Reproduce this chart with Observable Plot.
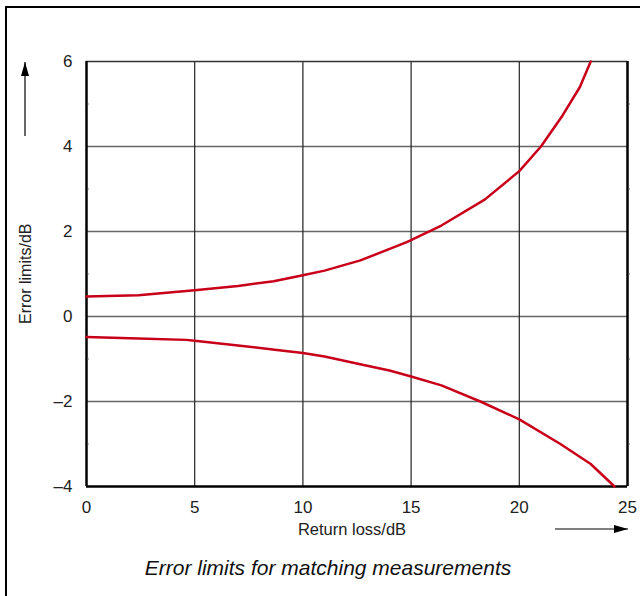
<!DOCTYPE html>
<html>
<head>
<meta charset="utf-8">
<script src="https://cdn.jsdelivr.net/npm/d3@7"></script>
<script src="https://cdn.jsdelivr.net/npm/@observablehq/plot@0.6"></script>
<style>
  html, body { margin: 0; padding: 0; background: #fff; }
  body { width: 640px; height: 596px; position: relative; overflow: hidden; font-family: "Liberation Sans", Arial, sans-serif; }
  #frame { position: absolute; left: 5px; top: 6px; width: 700px; height: 700px; border-left: 2.5px solid #000; border-top: 2.5px solid #000; box-sizing: border-box; }
  #chart { position: absolute; left: 0; top: 0; }
  #caption { position: absolute; left: 0; width: 656px; top: 556px; text-align: center; font-style: italic; font-size: 21px; color: #111; }
</style>
</head>
<body>
<div id="frame"></div>
<div id="chart"></div>
<div id="caption">Error limits for matching measurements</div>
<script>
// Return loss (dB) vs error limits (dB)
const upperX = [0, 2.4, 5, 7, 8.65, 10, 11, 12.66, 14.8, 16.4, 18.4, 20, 21, 22, 22.8, 23.3];
const upperY = [0.47, 0.5, 0.62, 0.72, 0.83, 0.97, 1.08, 1.32, 1.75, 2.14, 2.75, 3.42, 4.0, 4.73, 5.4, 6.0];
const lowerX = [0, 2.4, 4.6, 5, 7, 8.7, 10, 11, 12.7, 14, 15, 16.4, 18.2, 20, 21.9, 23.3, 24.4];
const lowerY = [-0.48, -0.52, -0.55, -0.57, -0.68, -0.78, -0.86, -0.94, -1.13, -1.27, -1.41, -1.62, -2.0, -2.42, -3.0, -3.47, -4.0];
const xTicks = [0, 5, 10, 15, 20, 25];
const yTicks = [-4, -2, 0, 2, 4, 6];
const xGrid = [5, 10, 15, 20];
const yGrid = [-2, 0, 2, 4];
const yMinor = [-3, -1, 1, 3, 5];

const upper = upperX.map((x, i) => ({x, y: upperY[i]}));
const lower = lowerX.map((x, i) => ({x, y: lowerY[i]}));

const plot = Plot.plot({
  width: 640,
  height: 545,
  marginLeft: 86,
  marginRight: 13,
  marginTop: 61,
  marginBottom: 59,
  style: {fontFamily: "Liberation Sans, Arial, sans-serif", fontSize: "17px", color: "#222", background: "transparent", overflow: "visible"},
  x: {type: "linear", domain: [0, 25]},
  y: {type: "linear", domain: [-4, 6]},
  marks: [
    Plot.ruleY(yGrid, {stroke: "#666", strokeWidth: 1.5}),
    Plot.ruleX(xGrid, {stroke: "#222", strokeWidth: 1.2}),
    Plot.ruleY([6], {stroke: "#333", strokeWidth: 1.5}),
    Plot.ruleY([-4], {stroke: "#000", strokeWidth: 2.5}),
    Plot.ruleX([0], {stroke: "#000", strokeWidth: 2.5}),
    Plot.ruleX([25], {stroke: "#000", strokeWidth: 2.5}),
    Plot.ruleY(yMinor, {x1: 0.06, x2: 0.13, stroke: "#666", strokeWidth: 1}),
    Plot.ruleY(yMinor, {x1: 25.07, x2: 25.14, stroke: "#666", strokeWidth: 1}),
    Plot.line(upper, {x: "x", y: "y", stroke: "#c8001a", strokeWidth: 2.5, curve: "linear"}),
    Plot.line(lower, {x: "x", y: "y", stroke: "#c8001a", strokeWidth: 2.5, curve: "linear"}),
    Plot.axisX(xTicks, {tickSize: 0, tickPadding: 14, label: null, fontSize: 17, fill: "#222"}),
    Plot.axisY(yTicks, {tickSize: 0, tickPadding: 14, label: null, fontSize: 17, fill: "#222", tickFormat: d => d < 0 ? "\u2013" + Math.abs(d) : String(d)}),
    Plot.text(["Return loss/dB"], {frameAnchor: "bottom", dy: 48, dx: -5, fontSize: 16.5, fill: "#222"}),
    Plot.text(["Error limits/dB"], {frameAnchor: "left", dx: -61, dy: 50, rotate: -90, fontSize: 16, fill: "#222"})
  ]
});
document.getElementById("chart").appendChild(plot);

// axis direction arrows
const svg = d3.select(plot);
const defs = svg.append("defs");
defs.append("marker").attr("id", "ah").attr("viewBox", "0 0 14 8").attr("refX", 14).attr("refY", 4)
  .attr("markerWidth", 14).attr("markerHeight", 8).attr("markerUnits", "userSpaceOnUse").attr("orient", "auto")
  .append("path").attr("d", "M0,0L14,4L0,8Z").attr("fill", "#000");
svg.append("line").attr("x1", 25).attr("x2", 25).attr("y1", 136).attr("y2", 62)
  .attr("stroke", "#000").attr("stroke-width", 1.2).attr("marker-end", "url(#ah)");
svg.append("line").attr("x1", 555).attr("x2", 628).attr("y1", 529).attr("y2", 529)
  .attr("stroke", "#000").attr("stroke-width", 1.2).attr("marker-end", "url(#ah)");
</script>
</body>
</html>
